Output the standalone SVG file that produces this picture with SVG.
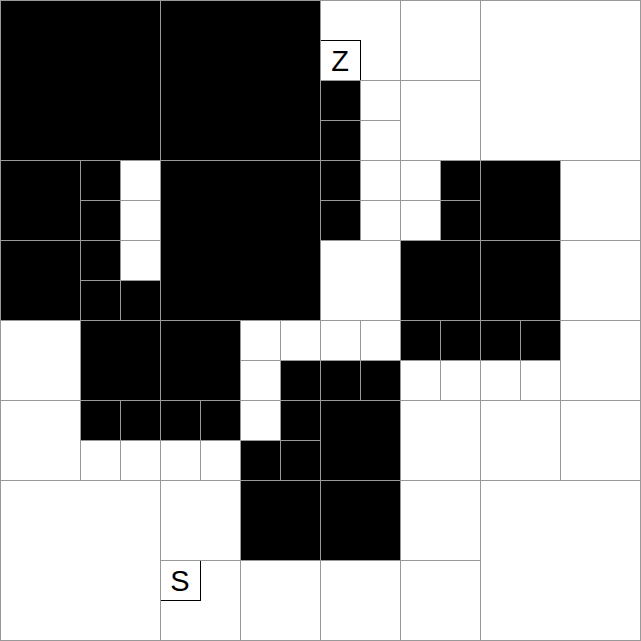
<svg xmlns="http://www.w3.org/2000/svg" width="641" height="641" viewBox="0 0 641 641">
<style>
.b{fill:#000;stroke:#999;stroke-width:1}
.w{fill:none;stroke:#999;stroke-width:1}
.lb{fill:#fff;stroke:#000;stroke-width:1}
.t{font-family:"Liberation Sans",Arial,sans-serif;font-size:29px;fill:#000;text-anchor:middle}
</style>
<rect x="0" y="0" width="641" height="641" fill="#fff"/>
<g id="label-Z"><rect class="lb" x="320.5" y="40.5" width="40" height="40"/><text class="t" x="340" y="71">Z</text></g>
<g id="label-S"><rect class="lb" x="160.5" y="560.5" width="40" height="40"/><text class="t" x="180" y="591">S</text></g>
<g id="black-cells" transform="translate(0.5,0.5)">
<rect class="b" x="0" y="0" width="160" height="160"/>
<rect class="b" x="160" y="0" width="160" height="160"/>
<rect class="b" x="160" y="160" width="160" height="160"/>
<rect class="b" x="0" y="160" width="80" height="80"/>
<rect class="b" x="0" y="240" width="80" height="80"/>
<rect class="b" x="400" y="240" width="80" height="80"/>
<rect class="b" x="480" y="160" width="80" height="80"/>
<rect class="b" x="480" y="240" width="80" height="80"/>
<rect class="b" x="80" y="320" width="80" height="80"/>
<rect class="b" x="160" y="320" width="80" height="80"/>
<rect class="b" x="320" y="400" width="80" height="80"/>
<rect class="b" x="240" y="480" width="80" height="80"/>
<rect class="b" x="320" y="480" width="80" height="80"/>
<rect class="b" x="80" y="160" width="40" height="40"/>
<rect class="b" x="80" y="200" width="40" height="40"/>
<rect class="b" x="80" y="240" width="40" height="40"/>
<rect class="b" x="80" y="280" width="40" height="40"/>
<rect class="b" x="120" y="280" width="40" height="40"/>
<rect class="b" x="320" y="80" width="40" height="40"/>
<rect class="b" x="320" y="120" width="40" height="40"/>
<rect class="b" x="320" y="160" width="40" height="40"/>
<rect class="b" x="320" y="200" width="40" height="40"/>
<rect class="b" x="440" y="160" width="40" height="40"/>
<rect class="b" x="440" y="200" width="40" height="40"/>
<rect class="b" x="80" y="400" width="40" height="40"/>
<rect class="b" x="120" y="400" width="40" height="40"/>
<rect class="b" x="280" y="360" width="40" height="40"/>
<rect class="b" x="160" y="400" width="40" height="40"/>
<rect class="b" x="200" y="400" width="40" height="40"/>
<rect class="b" x="280" y="400" width="40" height="40"/>
<rect class="b" x="240" y="440" width="40" height="40"/>
<rect class="b" x="280" y="440" width="40" height="40"/>
<rect class="b" x="320" y="360" width="40" height="40"/>
<rect class="b" x="360" y="360" width="40" height="40"/>
<rect class="b" x="400" y="320" width="40" height="40"/>
<rect class="b" x="440" y="320" width="40" height="40"/>
<rect class="b" x="480" y="320" width="40" height="40"/>
<rect class="b" x="520" y="320" width="40" height="40"/>
</g>
<g id="white-cells" transform="translate(0.5,0.5)">
<rect class="w" x="480" y="0" width="160" height="160"/>
<rect class="w" x="0" y="480" width="160" height="160"/>
<rect class="w" x="480" y="480" width="160" height="160"/>
<rect class="w" x="320" y="0" width="80" height="80"/>
<rect class="w" x="400" y="0" width="80" height="80"/>
<rect class="w" x="400" y="80" width="80" height="80"/>
<rect class="w" x="320" y="240" width="80" height="80"/>
<rect class="w" x="560" y="160" width="80" height="80"/>
<rect class="w" x="560" y="240" width="80" height="80"/>
<rect class="w" x="0" y="320" width="80" height="80"/>
<rect class="w" x="0" y="400" width="80" height="80"/>
<rect class="w" x="160" y="480" width="80" height="80"/>
<rect class="w" x="160" y="560" width="80" height="80"/>
<rect class="w" x="240" y="560" width="80" height="80"/>
<rect class="w" x="400" y="400" width="80" height="80"/>
<rect class="w" x="560" y="320" width="80" height="80"/>
<rect class="w" x="480" y="400" width="80" height="80"/>
<rect class="w" x="560" y="400" width="80" height="80"/>
<rect class="w" x="400" y="480" width="80" height="80"/>
<rect class="w" x="320" y="560" width="80" height="80"/>
<rect class="w" x="400" y="560" width="80" height="80"/>
<rect class="w" x="120" y="160" width="40" height="40"/>
<rect class="w" x="120" y="200" width="40" height="40"/>
<rect class="w" x="120" y="240" width="40" height="40"/>
<rect class="w" x="360" y="80" width="40" height="40"/>
<rect class="w" x="360" y="120" width="40" height="40"/>
<rect class="w" x="360" y="160" width="40" height="40"/>
<rect class="w" x="360" y="200" width="40" height="40"/>
<rect class="w" x="400" y="160" width="40" height="40"/>
<rect class="w" x="400" y="200" width="40" height="40"/>
<rect class="w" x="80" y="440" width="40" height="40"/>
<rect class="w" x="120" y="440" width="40" height="40"/>
<rect class="w" x="240" y="320" width="40" height="40"/>
<rect class="w" x="280" y="320" width="40" height="40"/>
<rect class="w" x="240" y="360" width="40" height="40"/>
<rect class="w" x="160" y="440" width="40" height="40"/>
<rect class="w" x="200" y="440" width="40" height="40"/>
<rect class="w" x="240" y="400" width="40" height="40"/>
<rect class="w" x="320" y="320" width="40" height="40"/>
<rect class="w" x="360" y="320" width="40" height="40"/>
<rect class="w" x="400" y="360" width="40" height="40"/>
<rect class="w" x="440" y="360" width="40" height="40"/>
<rect class="w" x="480" y="360" width="40" height="40"/>
<rect class="w" x="520" y="360" width="40" height="40"/>
</g>
</svg>
